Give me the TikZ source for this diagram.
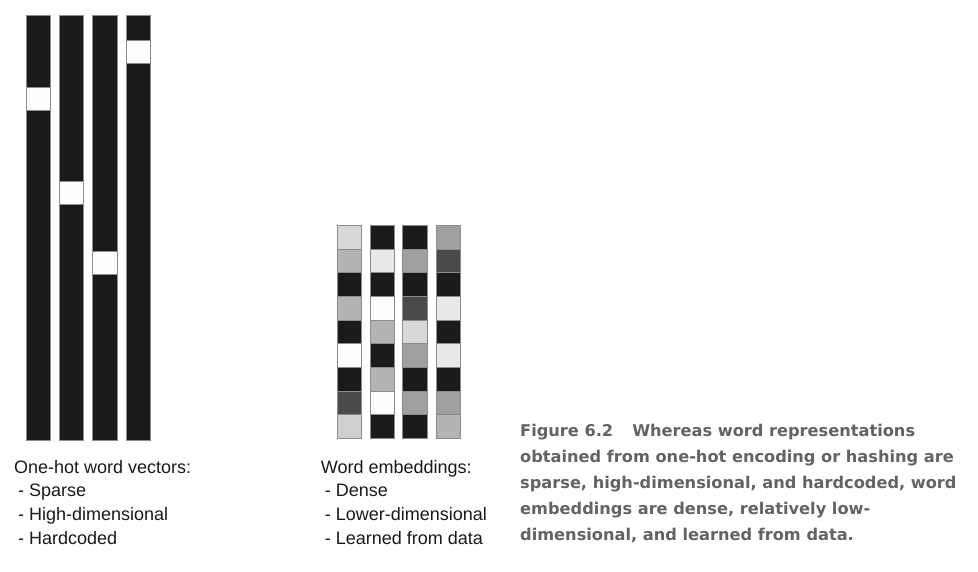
\documentclass[tikz,border=0pt]{standalone}
\usepackage{fontspec}
\setmainfont{Liberation Sans}
\newfontfamily\capfont{DejaVu Sans}
\definecolor{barblack}{HTML}{1A1A1A}
\definecolor{cellwhite}{HTML}{FDFDFB}
\definecolor{cellborder}{HTML}{8C8C8C}
\definecolor{gA}{HTML}{D8D8D8}
\definecolor{gB}{HTML}{B4B4B4}
\definecolor{gC}{HTML}{A0A0A0}
\definecolor{gD}{HTML}{4A4A4A}
\definecolor{gE}{HTML}{E8E8E8}
\definecolor{gF}{HTML}{D0D0D0}
\definecolor{labeltext}{HTML}{1A1A1A}
\definecolor{captext}{HTML}{636363}
\begin{document}
\begin{tikzpicture}[x=1pt,y=-1pt,
  barbox/.style={draw=cellborder, line width=0.8pt, fill=barblack, inner sep=0pt, outer sep=0pt,
    anchor=north west, minimum width=24.5pt, minimum height=424.3pt},
  hotbox/.style={draw=cellborder, line width=0.8pt, fill=cellwhite, inner sep=0pt, outer sep=0pt,
    anchor=north west, minimum width=24.5pt, minimum height=23pt},
  embbox/.style={draw=cellborder, line width=0.8pt, inner sep=0pt, outer sep=0pt,
    anchor=north west, minimum width=24.5pt, minimum height=23.6pt},
  lbltext/.style={anchor=base west, inner sep=0pt, text=labeltext, font=\fontsize{18}{23.5}\selectfont},
  captionline/.style={anchor=base west, inner sep=0pt, text=captext, font=\capfont\bfseries\fontsize{16.2}{26}\selectfont}]
\useasboundingbox (0,0) rectangle (978,572);
\fill[white] (0,0) rectangle (978,572);
% one-hot vectors
\foreach \i/\x/\h in {1/26/87.3, 2/59.3/181.7, 3/92.7/251, 4/126/40.3}{
  \node[barbox] (bar\i) at (\x,15.7) {};
  \node[hotbox] (hot\i) at (\x,\h) {};
}
% word embeddings
\foreach \i/\x/\cols in {
  1/337.3/{gA,gB,barblack,gB,barblack,cellwhite,barblack,gD,gF},
  2/370/{barblack,gE,barblack,cellwhite,gB,barblack,gB,cellwhite,barblack},
  3/402.7/{barblack,gC,barblack,gD,gA,gC,barblack,gC,barblack},
  4/436/{gC,gD,barblack,gE,barblack,gE,barblack,gC,gB}}{
  \foreach \c [count=\j from 0] in \cols {
    \node[embbox, fill=\c] (emb\i-\j) at (\x,225.7+23.6*\j) {};
  }
}
% labels
\node[lbltext] (oh0) at (14,473) {One-hot word vectors:};
\node[lbltext] (oh1) at (18,496.8) {- Sparse};
\node[lbltext] (oh2) at (18,520.6) {- High-dimensional};
\node[lbltext] (oh3) at (18,544.4) {- Hardcoded};
\node[lbltext] (we0) at (320.7,473) {Word embeddings:};
\node[lbltext] (we1) at (324.7,496.8) {- Dense};
\node[lbltext] (we2) at (324.7,520.6) {- Lower-dimensional};
\node[lbltext] (we3) at (324.7,544.4) {- Learned from data};
% caption
\node[captionline] (cap1) at (520,436) {Figure 6.2\hspace{19pt}Whereas word representations};
\node[captionline] (cap2) at (520,462) {obtained from one-hot encoding or hashing are};
\node[captionline] (cap3) at (520,488) {sparse, high-dimensional, and hardcoded, word};
\node[captionline] (cap4) at (520,514) {embeddings are dense, relatively low-};
\node[captionline] (cap5) at (520,540) {dimensional, and learned from data.};
\end{tikzpicture}
\end{document}
